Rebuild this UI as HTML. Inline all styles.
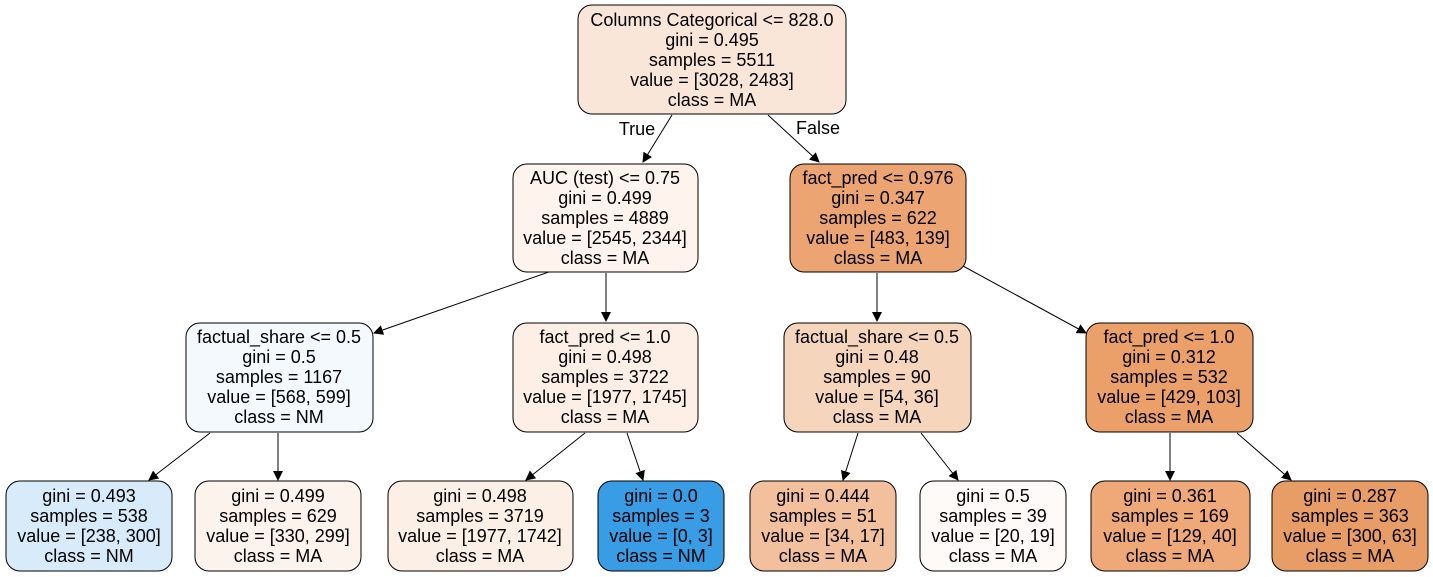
<!DOCTYPE html>
<html><head><meta charset="utf-8"><style>
html,body{margin:0;padding:0;background:#fff;}
svg{display:block;}
text{font-family:"Liberation Sans",Arial,sans-serif;font-size:18px;fill:#000;text-anchor:middle;}
</style></head><body>
<svg width="1433" height="577" viewBox="0 0 1433 577" xmlns="http://www.w3.org/2000/svg">
<defs><marker id="a" markerWidth="10" markerHeight="10" refX="9" refY="5" orient="auto" markerUnits="userSpaceOnUse"><path d="M0,0 L10,5 L0,10 z" fill="#000"/></marker></defs>
<g stroke="#000" stroke-width="1" fill="none" marker-end="url(#a)">
<line x1="672" y1="115" x2="643" y2="162"/>
<line x1="768" y1="115" x2="819" y2="162"/>
<line x1="566" y1="266" x2="374" y2="333"/>
<line x1="606" y1="273" x2="606" y2="321"/>
<line x1="877" y1="273" x2="877" y2="321"/>
<line x1="963" y1="266" x2="1086" y2="333"/>
<line x1="210" y1="433" x2="149" y2="480"/>
<line x1="278" y1="433" x2="278" y2="480"/>
<line x1="585" y1="433" x2="526" y2="480"/>
<line x1="627" y1="433" x2="643" y2="480"/>
<line x1="858" y1="433" x2="843" y2="480"/>
<line x1="921" y1="433" x2="958" y2="480"/>
<line x1="1170" y1="433" x2="1170" y2="480"/>
<line x1="1237" y1="433" x2="1291" y2="480"/>
</g>
<text x="637" y="135">True</text>
<text x="818" y="134">False</text>
<g stroke="#000" stroke-width="1">
<rect x="578" y="5" width="268" height="109" rx="14" fill="#fae6d8"/>
<rect x="513" y="164" width="185" height="108" rx="14" fill="#fef4ed"/>
<rect x="790" y="164" width="176" height="108" rx="14" fill="#eca572"/>
<rect x="186" y="323" width="187" height="109" rx="14" fill="#f4f9fe"/>
<rect x="513" y="323" width="185" height="109" rx="14" fill="#fdefe6"/>
<rect x="784" y="323" width="187" height="109" rx="14" fill="#f6d5bd"/>
<rect x="1086" y="323" width="167" height="109" rx="14" fill="#eba06a"/>
<rect x="6" y="481" width="166" height="90" rx="14" fill="#d8ebfa"/>
<rect x="195" y="481" width="166" height="90" rx="14" fill="#fdf3ed"/>
<rect x="388" y="481" width="185" height="90" rx="14" fill="#fcefe6"/>
<rect x="598" y="481" width="126" height="90" rx="14" fill="#399de5"/>
<rect x="750" y="481" width="146" height="90" rx="14" fill="#f2c09c"/>
<rect x="920" y="481" width="146" height="90" rx="14" fill="#fefaf7"/>
<rect x="1091" y="481" width="159" height="90" rx="14" fill="#efa978"/>
<rect x="1272" y="481" width="156" height="90" rx="14" fill="#e99d66"/>
</g>
<text x="712" y="26">Columns Categorical &lt;= 828.0</text><text x="712" y="46">gini = 0.495</text><text x="712" y="66">samples = 5511</text><text x="712" y="86">value = [3028, 2483]</text><text x="712" y="106">class = MA</text>
<text x="605" y="184">AUC (test) &lt;= 0.75</text><text x="605" y="204">gini = 0.499</text><text x="605" y="224">samples = 4889</text><text x="605" y="244">value = [2545, 2344]</text><text x="605" y="264">class = MA</text>
<text x="878" y="184">fact_pred &lt;= 0.976</text><text x="878" y="204">gini = 0.347</text><text x="878" y="224">samples = 622</text><text x="878" y="244">value = [483, 139]</text><text x="878" y="264">class = MA</text>
<text x="279" y="343">factual_share &lt;= 0.5</text><text x="279" y="363">gini = 0.5</text><text x="279" y="383">samples = 1167</text><text x="279" y="403">value = [568, 599]</text><text x="279" y="423">class = NM</text>
<text x="605" y="343">fact_pred &lt;= 1.0</text><text x="605" y="363">gini = 0.498</text><text x="605" y="383">samples = 3722</text><text x="605" y="403">value = [1977, 1745]</text><text x="605" y="423">class = MA</text>
<text x="877" y="343">factual_share &lt;= 0.5</text><text x="877" y="363">gini = 0.48</text><text x="877" y="383">samples = 90</text><text x="877" y="403">value = [54, 36]</text><text x="877" y="423">class = MA</text>
<text x="1169" y="343">fact_pred &lt;= 1.0</text><text x="1169" y="363">gini = 0.312</text><text x="1169" y="383">samples = 532</text><text x="1169" y="403">value = [429, 103]</text><text x="1169" y="423">class = MA</text>
<text x="89" y="502">gini = 0.493</text><text x="89" y="522">samples = 538</text><text x="89" y="542">value = [238, 300]</text><text x="89" y="562">class = NM</text>
<text x="278" y="502">gini = 0.499</text><text x="278" y="522">samples = 629</text><text x="278" y="542">value = [330, 299]</text><text x="278" y="562">class = MA</text>
<text x="480" y="502">gini = 0.498</text><text x="480" y="522">samples = 3719</text><text x="480" y="542">value = [1977, 1742]</text><text x="480" y="562">class = MA</text>
<text x="661" y="502">gini = 0.0</text><text x="661" y="522">samples = 3</text><text x="661" y="542">value = [0, 3]</text><text x="661" y="562">class = NM</text>
<text x="823" y="502">gini = 0.444</text><text x="823" y="522">samples = 51</text><text x="823" y="542">value = [34, 17]</text><text x="823" y="562">class = MA</text>
<text x="993" y="502">gini = 0.5</text><text x="993" y="522">samples = 39</text><text x="993" y="542">value = [20, 19]</text><text x="993" y="562">class = MA</text>
<text x="1170" y="502">gini = 0.361</text><text x="1170" y="522">samples = 169</text><text x="1170" y="542">value = [129, 40]</text><text x="1170" y="562">class = MA</text>
<text x="1350" y="502">gini = 0.287</text><text x="1350" y="522">samples = 363</text><text x="1350" y="542">value = [300, 63]</text><text x="1350" y="562">class = MA</text>
</svg>
</body></html>
